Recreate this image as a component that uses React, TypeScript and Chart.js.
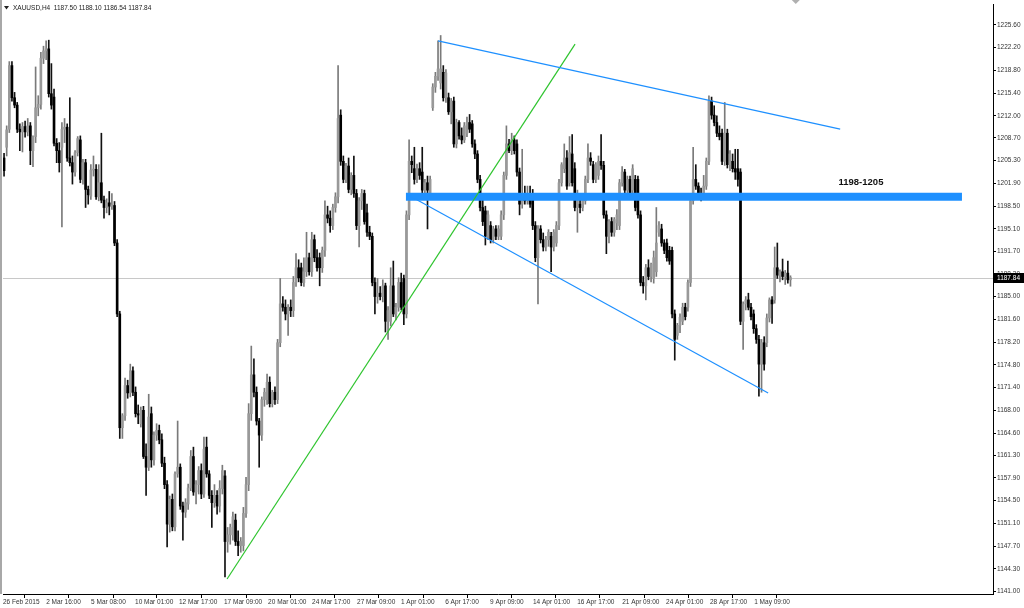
import React, { useEffect, useRef } from "react";
import { Chart, registerables } from "chart.js";

Chart.register(...registerables);

const headerText = "XAUUSD,H4  1187.50 1188.10 1186.54 1187.84";

const opens = [
  1205.7,1207.3,1210.0,1219.5,1214.7,1213.6,1210.0,1209.6,1210.4,1209.6,
  1210.5,1206.8,1208.9,1213.2,1213.7,1220.6,1221.7,1222.0,1215.3,1214.8,
  1207.9,1206.8,1207.3,1210.0,1210.3,1205.7,1205.0,1203.6,1206.5,1208.4,
  1202.5,1205.0,1201.0,1200.0,1203.9,1204.0,1199.9,1202.0,1199.4,1198.3,
  1199.0,1198.5,1198.6,1193.0,1182.4,1165.4,1167.2,1171.7,1170.6,1173.9,
  1170.7,1167.5,1166.0,1168.0,1161.1,1159.5,1167.5,1160.6,1164.3,1165.0,
  1163.6,1160.1,1156.9,1151.0,1154.7,1150.6,1158.5,1159.5,1153.7,1152.8,
  1154.0,1156.4,1161.1,1155.8,1156.9,1159.0,1155.5,1162.5,1158.5,1155.3,
  1154.2,1155.3,1153.7,1156.3,1158.2,1148.4,1149.4,1149.4,1151.6,1148.4,
  1147.8,1147.8,1152.6,1156.9,1167.5,1173.3,1170.7,1166.4,1164.3,1169.6,
  1169.6,1172.2,1169.0,1170.7,1169.6,1178.1,1183.9,1183.4,1182.4,1183.4,
  1182.9,1187.1,1189.3,1189.3,1187.1,1188.7,1190.8,1188.7,1193.5,1190.8,
  1190.8,1189.3,1191.9,1197.2,1196.7,1195.6,1198.3,1199.9,1212.1,1205.2,
  1202.5,1204.5,1201.0,1203.1,1200.4,1195.6,1199.3,1200.4,1197.5,1194.6,
  1194.0,1187.1,1185.0,1185.5,1185.0,1186.6,1181.3,1181.3,1186.6,1182.4,
  1183.4,1187.1,1187.7,1182.4,1197.2,1205.2,1204.1,1202.5,1204.1,1203.6,
  1200.9,1202.0,1200.4,1213.2,1216.3,1217.9,1216.9,1218.5,1214.7,1214.7,
  1212.6,1214.2,1207.8,1211.0,1209.0,1208.4,1209.4,1211.0,1210.8,1207.8,
  1206.3,1202.5,1198.3,1197.8,1194.0,1195.6,1193.5,1195.1,1194.0,1194.0,
  1197.2,1203.1,1207.8,1206.8,1208.4,1207.8,1203.6,1198.8,1200.4,1199.3,
  1200.4,1200.4,1195.6,1190.8,1195.1,1193.5,1192.4,1193.5,1194.0,1192.4,
  1193.0,1195.6,1202.0,1204.1,1205.7,1202.0,1206.3,1204.1,1198.3,1198.8,
  1198.3,1199.3,1202.5,1205.7,1204.7,1202.5,1203.1,1205.2,1204.6,1197.2,
  1194.0,1196.2,1194.6,1196.0,1195.6,1202.0,1203.6,1200.9,1202.5,1200.9,
  1202.5,1202.5,1197.2,1187.1,1186.6,1189.3,1188.0,1187.7,1188.7,1194.6,
  1195.1,1193.0,1193.0,1191.9,1191.9,1182.4,1179.2,1180.7,1181.3,1183.4,
  1183.4,1187.1,1199.3,1202.5,1201.5,1200.4,1200.0,1201.5,1205.2,1214.2,
  1212.1,1211.0,1209.4,1209.4,1205.2,1209.4,1204.7,1205.2,1204.1,1204.1,
  1203.6,1181.3,1183.9,1184.5,1183.4,1182.4,1180.2,1178.6,1174.9,1178.1,
  1178.1,1181.8,1184.5,1184.5,1189.3,1188.2,1188.7,1188.0,1188.5,1187.50,
];

const highs = [
  1206.4,1210.5,1220.1,1220.1,1215.5,1214.0,1210.8,1211.0,1211.2,1211.6,
  1211.0,1209.0,1219.3,1215.0,1221.5,1222.4,1223.2,1223.3,1219.8,1216.0,
  1208.6,1208.0,1211.0,1211.6,1210.8,1214.7,1206.0,1206.8,1208.9,1209.0,
  1205.5,1205.5,1201.5,1204.7,1206.0,1204.7,1204.7,1209.4,1200.0,1199.6,
  1200.7,1200.4,1199.2,1193.5,1182.8,1167.5,1172.8,1172.5,1174.9,1174.5,
  1171.5,1168.8,1168.5,1168.6,1163.0,1170.4,1168.5,1164.8,1166.0,1165.8,
  1164.5,1161.0,1157.5,1155.2,1155.5,1158.8,1166.4,1160.0,1154.3,1154.8,
  1157.0,1162.0,1162.5,1157.5,1159.6,1160.0,1164.0,1164.0,1159.0,1156.0,
  1156.9,1156.0,1157.5,1159.8,1159.0,1150.5,1151.0,1152.8,1152.5,1150.0,
  1149.0,1153.5,1158.0,1169.0,1177.6,1175.7,1171.5,1166.8,1170.0,1171.3,
  1173.4,1173.0,1171.0,1171.5,1178.6,1187.7,1185.0,1184.5,1183.8,1184.5,
  1188.0,1191.4,1190.5,1190.0,1190.8,1194.6,1191.5,1194.6,1194.2,1192.0,
  1191.5,1192.4,1199.3,1198.5,1197.8,1198.8,1200.5,1219.5,1212.9,1206.0,
  1204.9,1205.7,1203.5,1206.0,1201.0,1199.8,1201.0,1200.9,1198.8,1195.5,
  1194.5,1187.8,1187.7,1186.5,1187.5,1187.0,1183.5,1189.3,1190.3,1184.0,
  1187.8,1188.5,1188.2,1197.8,1208.4,1206.0,1207.3,1204.8,1205.0,1207.3,
  1202.5,1203.0,1203.0,1216.8,1218.5,1223.2,1224.0,1219.5,1218.9,1215.4,
  1214.6,1214.8,1211.5,1211.3,1210.2,1211.0,1211.8,1212.2,1211.3,1208.4,
  1206.8,1203.1,1200.0,1198.5,1197.8,1196.2,1195.5,1195.6,1195.6,1197.8,
  1203.6,1210.5,1208.5,1209.4,1209.0,1208.4,1204.2,1207.0,1201.5,1201.5,
  1201.5,1201.0,1196.2,1195.6,1195.6,1194.5,1194.0,1195.0,1194.6,1195.0,
  1196.2,1202.5,1205.0,1207.8,1206.8,1208.9,1209.2,1205.0,1200.9,1199.5,
  1200.4,1203.0,1207.8,1206.5,1205.2,1205.0,1206.0,1209.2,1205.2,1197.8,
  1196.5,1196.8,1196.8,1198.0,1202.5,1204.4,1204.0,1203.0,1203.0,1204.7,
  1203.1,1203.0,1197.8,1188.0,1189.8,1190.5,1190.0,1191.8,1198.3,1196.2,
  1195.8,1193.5,1193.6,1192.5,1192.4,1183.0,1181.0,1182.4,1184.0,1184.0,
  1187.5,1199.9,1207.3,1204.7,1202.0,1201.2,1203.1,1205.7,1215.0,1214.8,
  1213.5,1212.0,1210.5,1210.0,1214.0,1210.0,1206.8,1206.3,1207.0,1207.0,
  1204.1,1184.2,1185.0,1185.5,1184.0,1183.0,1180.8,1179.2,1178.6,1179.0,
  1182.4,1184.8,1185.0,1192.4,1193.0,1189.0,1190.6,1188.9,1190.3,1188.10,
];

const lows = [
  1203.0,1206.0,1209.5,1214.2,1213.2,1209.5,1206.8,1206.6,1208.8,1209.0,
  1204.7,1204.4,1208.0,1212.0,1213.0,1219.8,1220.4,1214.8,1213.0,1207.5,
  1205.0,1203.6,1195.4,1208.0,1205.2,1204.5,1201.8,1203.0,1206.0,1202.0,
  1201.8,1198.3,1198.8,1199.5,1203.0,1199.5,1199.3,1199.0,1196.7,1197.5,
  1197.2,1198.0,1192.6,1182.0,1163.8,1163.8,1166.5,1169.8,1170.0,1170.2,
  1167.0,1166.0,1165.5,1160.8,1155.3,1159.0,1159.5,1159.8,1163.5,1163.0,
  1159.6,1156.3,1147.6,1149.8,1150.0,1150.0,1158.0,1153.2,1148.6,1152.0,
  1153.2,1156.0,1155.3,1154.0,1155.5,1154.8,1155.0,1158.0,1154.8,1150.5,
  1153.5,1152.5,1152.8,1155.5,1143.1,1146.8,1148.0,1148.6,1147.8,1146.3,
  1146.8,1147.0,1152.0,1156.0,1166.5,1170.0,1165.8,1159.5,1163.5,1168.6,
  1168.9,1168.5,1168.5,1168.9,1169.0,1177.5,1182.8,1181.5,1179.2,1182.0,
  1182.0,1186.5,1187.2,1186.6,1186.5,1188.0,1188.2,1188.0,1190.2,1188.8,
  1186.6,1188.6,1191.0,1196.0,1194.6,1195.0,1197.6,1199.0,1204.6,1202.0,
  1202.0,1200.5,1200.2,1199.8,1195.0,1192.4,1198.0,1195.8,1194.0,1193.5,
  1186.6,1182.4,1184.0,1184.5,1184.2,1179.7,1178.6,1180.6,1182.0,1181.5,
  1182.8,1183.0,1180.8,1181.8,1196.5,1203.5,1201.8,1202.0,1202.5,1200.5,
  1200.2,1195.1,1199.8,1212.8,1215.5,1217.3,1216.0,1214.2,1214.0,1212.2,
  1210.8,1207.3,1207.2,1208.5,1207.8,1208.0,1208.9,1209.5,1207.3,1205.6,
  1202.0,1197.8,1195.6,1192.7,1193.5,1193.0,1193.0,1193.5,1193.5,1193.5,
  1196.5,1202.5,1206.5,1206.2,1206.3,1203.0,1197.2,1198.2,1198.8,1198.8,
  1198.3,1195.0,1190.2,1183.9,1193.0,1191.8,1191.8,1192.5,1188.7,1191.8,
  1192.5,1195.0,1201.5,1203.5,1201.0,1201.5,1201.5,1197.8,1194.6,1197.5,
  1197.8,1198.8,1202.0,1204.6,1202.0,1202.0,1202.5,1204.0,1196.7,1191.4,
  1193.0,1194.0,1194.0,1195.0,1195.0,1201.5,1200.5,1200.5,1199.9,1200.4,
  1197.8,1196.7,1186.6,1185.5,1184.5,1187.5,1187.2,1187.0,1188.0,1194.0,
  1192.5,1191.4,1190.3,1189.8,1181.8,1175.5,1178.6,1179.6,1180.8,1181.5,
  1182.8,1186.5,1198.8,1201.0,1199.8,1199.3,1199.5,1201.0,1204.7,1211.5,
  1210.5,1208.9,1208.4,1204.7,1204.6,1204.2,1203.8,1203.6,1202.5,1201.5,
  1180.8,1177.1,1183.0,1183.0,1181.5,1179.5,1178.0,1170.1,1170.7,1174.0,
  1177.5,1181.2,1181.0,1184.0,1187.7,1187.2,1187.5,1186.8,1187.0,1186.54,
];

const closes = [
  1203.8,1209.9,1219.5,1214.7,1213.6,1210.0,1209.6,1210.4,1209.6,1210.5,
  1206.8,1208.9,1213.2,1213.7,1220.6,1221.7,1222.0,1215.3,1213.6,1207.9,
  1206.8,1205.0,1210.0,1210.3,1205.7,1205.0,1203.6,1206.5,1208.6,1202.5,
  1205.0,1201.0,1200.2,1203.9,1204.0,1199.9,1202.0,1199.4,1198.3,1199.0,
  1198.5,1198.7,1193.0,1182.4,1165.4,1167.2,1171.7,1170.6,1173.9,1170.7,
  1167.5,1167.3,1168.0,1161.1,1159.5,1167.0,1160.6,1164.3,1165.0,1163.6,
  1160.1,1156.9,1151.0,1154.7,1150.6,1158.5,1159.5,1153.7,1152.8,1154.2,
  1156.4,1161.1,1155.8,1156.9,1159.0,1155.5,1162.2,1158.5,1155.3,1154.2,
  1155.3,1153.7,1156.3,1159.0,1148.4,1149.4,1150.5,1152.1,1148.4,1147.8,
  1148.4,1152.6,1156.9,1167.5,1173.3,1170.7,1166.4,1164.3,1169.6,1170.7,
  1172.2,1169.0,1170.7,1169.6,1178.1,1183.9,1183.4,1182.4,1183.4,1182.9,
  1187.1,1189.3,1187.8,1187.1,1188.7,1190.8,1188.7,1193.5,1190.8,1189.3,
  1189.3,1191.9,1197.2,1196.7,1195.6,1198.3,1199.9,1211.6,1205.2,1202.5,
  1204.5,1201.0,1203.1,1200.4,1195.6,1199.3,1200.4,1196.2,1194.6,1194.0,
  1187.1,1185.0,1185.5,1185.0,1186.6,1181.3,1182.9,1186.6,1182.4,1183.4,
  1187.1,1183.4,1182.4,1197.2,1205.2,1204.7,1202.5,1204.1,1203.1,1200.9,
  1202.0,1200.9,1202.5,1216.3,1217.9,1219.0,1219.0,1214.7,1218.4,1212.6,
  1214.2,1207.8,1211.0,1209.0,1208.4,1210.5,1211.0,1210.0,1207.8,1206.3,
  1202.5,1198.3,1196.2,1194.0,1197.2,1193.5,1195.1,1194.0,1195.1,1197.2,
  1203.1,1207.8,1206.8,1208.4,1206.8,1203.6,1198.8,1200.4,1199.3,1200.4,
  1198.8,1195.6,1190.8,1195.1,1193.5,1192.4,1193.5,1194.6,1192.4,1194.6,
  1195.6,1202.0,1204.7,1205.7,1201.5,1206.5,1202.0,1198.3,1200.4,1198.3,
  1199.9,1202.5,1205.7,1205.2,1202.5,1204.7,1205.2,1204.6,1197.2,1194.0,
  1196.2,1194.6,1196.5,1197.2,1202.0,1203.6,1200.9,1202.5,1200.4,1204.1,
  1198.3,1197.2,1187.1,1186.6,1189.3,1188.0,1189.8,1190.8,1193.0,1195.6,
  1193.0,1191.9,1190.8,1190.3,1182.4,1178.6,1180.7,1181.9,1183.4,1182.0,
  1187.1,1199.3,1202.5,1201.5,1200.4,1200.0,1201.5,1205.2,1214.2,1212.1,
  1211.0,1209.4,1208.9,1205.2,1209.4,1204.7,1206.3,1204.1,1203.6,1202.5,
  1181.3,1183.9,1184.5,1183.4,1182.0,1180.2,1178.6,1174.9,1178.1,1174.9,
  1181.8,1184.5,1183.9,1189.3,1188.2,1188.7,1188.0,1188.5,1187.5,1187.84,
];

const dateLabels = [
  "26 Feb 2015", "2 Mar 16:00", "5 Mar 08:00", "10 Mar 01:00", "12 Mar 17:00",
  "17 Mar 09:00", "20 Mar 01:00", "24 Mar 17:00", "27 Mar 09:00", "1 Apr 01:00",
  "6 Apr 17:00", "9 Apr 09:00", "14 Apr 01:00", "16 Apr 17:00", "21 Apr 09:00",
  "24 Apr 01:00", "28 Apr 17:00", "1 May 09:00",
];
const dateTickBars = [
  -0.4, 16.0, 33.1, 49.8, 66.5, 83.6, 100.4, 117.1, 134.2, 150.9,
  167.7, 184.8, 201.1, 217.9, 235.0, 251.7, 268.4, 285.2,
];
const priceTicks = [
  1225.6, 1222.2, 1218.8, 1215.4, 1212.0, 1208.7, 1205.3, 1201.9, 1198.5,
  1195.1, 1191.7, 1188.3, 1185.0, 1181.6, 1178.2, 1174.8, 1171.4, 1168.0,
  1164.6, 1161.3, 1157.9, 1154.5, 1151.1, 1147.7, 1144.3, 1141.0,
];
const lastPrice = 1187.84;

const zoneLabel = "1198-1205";
const zoneLabelAt = { x: 325.8, y: 1202.0 };
const zoneBand = [{ x: 152.8, y: 1199.9 }, { x: 364.2, y: 1199.9 }];
const upperTrend = [{ x: 165.0, y: 1223.2 }, { x: 317.9, y: 1210.0 }];
const lowerTrend = [{ x: 154.0, y: 1200.1 }, { x: 290.5, y: 1170.6 }];
const greenTrend = [{ x: 84.8, y: 1142.8 }, { x: 217.1, y: 1222.7 }];

const FONT = "'Liberation Sans', Arial, sans-serif";

const isBull = (i: number) => closes[i] >= opens[i];

export default function App() {
  const ref = useRef<HTMLCanvasElement | null>(null);

  useEffect(() => {
    const canvas = ref.current;
    if (!canvas) return;

    const wickData = lows.map((l, i) => ({ x: i, y: [l, highs[i]] }));
    const bodyData = opens.map((o, i) => ({ x: i, y: [o, closes[i]] }));

    const overlay = {
      id: "overlay",
      beforeDraw(chart: any) {
        const { ctx } = chart;
        ctx.save();
        ctx.fillStyle = "#ffffff";
        ctx.fillRect(0, 0, chart.width, chart.height);
        ctx.restore();
      },
      beforeDatasetsDraw(chart: any) {
        const { ctx, chartArea, scales } = chart;
        const y = Math.round(scales.y.getPixelForValue(lastPrice)) + 0.5;
        ctx.save();
        ctx.strokeStyle = "#c8c8c8";
        ctx.lineWidth = 1;
        ctx.beginPath();
        ctx.moveTo(chartArea.left, y);
        ctx.lineTo(chartArea.right, y);
        ctx.stroke();
        ctx.restore();
      },
      afterDraw(chart: any) {
        const { ctx, chartArea, scales } = chart;
        ctx.save();
        // left window border
        ctx.fillStyle = "#a8a8a8";
        ctx.fillRect(0, 0, 2, chartArea.bottom);
        // header
        ctx.fillStyle = "#222";
        ctx.beginPath();
        ctx.moveTo(4, 6);
        ctx.lineTo(9, 6);
        ctx.lineTo(6.5, 9.5);
        ctx.closePath();
        ctx.fill();
        ctx.font = `6.5px ${FONT}`;
        ctx.textBaseline = "middle";
        ctx.textAlign = "left";
        ctx.fillText(headerText, 13, 8);
        // zone label
        ctx.font = `bold 9.5px ${FONT}`;
        ctx.textAlign = "center";
        ctx.fillStyle = "#111";
        ctx.fillText(
          zoneLabel,
          scales.x.getPixelForValue(zoneLabelAt.x),
          scales.y.getPixelForValue(zoneLabelAt.y)
        );
        // chart shift marker
        const sx = scales.x.getPixelForValue(opens.length + 1);
        ctx.fillStyle = "#b0b0b0";
        ctx.beginPath();
        ctx.moveTo(sx - 4, 0);
        ctx.lineTo(sx + 4, 0);
        ctx.lineTo(sx, 4);
        ctx.closePath();
        ctx.fill();
        // last price box
        const py = Math.round(scales.y.getPixelForValue(lastPrice));
        ctx.fillStyle = "#000";
        ctx.fillRect(chartArea.right + 1, py - 5, 30, 10);
        ctx.fillStyle = "#fff";
        ctx.font = `6.5px ${FONT}`;
        ctx.textAlign = "left";
        ctx.fillText(lastPrice.toFixed(2), chartArea.right + 4, py);
        ctx.restore();
      },
    };

    const chart = new Chart(canvas, {
      type: "bar",
      data: {
        datasets: [
          {
            type: "line",
            data: zoneBand,
            borderColor: "#1e90ff",
            borderWidth: 8,
            borderCapStyle: "butt",
            pointRadius: 0,
            order: 1,
          } as any,
          {
            type: "line",
            data: upperTrend,
            borderColor: "#1e90ff",
            borderWidth: 1.2,
            pointRadius: 0,
            order: 0,
          } as any,
          {
            type: "line",
            data: lowerTrend,
            borderColor: "#1e90ff",
            borderWidth: 1.2,
            pointRadius: 0,
            order: 0,
          } as any,
          {
            type: "line",
            data: greenTrend,
            borderColor: "#2ec42e",
            borderWidth: 1.2,
            pointRadius: 0,
            order: 0,
          } as any,
          {
            type: "bar",
            data: wickData,
            barThickness: 1,
            grouped: false,
            backgroundColor: (c: any) => (isBull(c.dataIndex) ? "#7a7a7a" : "#111111"),
            borderWidth: 0,
            order: 3,
          } as any,
          {
            type: "bar",
            data: bodyData,
            barThickness: 2,
            grouped: false,
            minBarLength: 1,
            backgroundColor: (c: any) => (isBull(c.dataIndex) ? "#999999" : "#000000"),
            borderWidth: 0,
            order: 2,
          } as any,
        ],
      },
      options: {
        responsive: false,
        animation: false,
        devicePixelRatio: 1,
        layout: { padding: { left: 3, top: 2, right: 0, bottom: 0 } },
        plugins: {
          legend: { display: false },
          tooltip: { enabled: false },
        },
        scales: {
          x: {
            type: "linear",
            min: -0.4,
            max: 376,
            offset: false,
            afterBuildTicks: (axis: any) => {
              axis.ticks = dateTickBars.map((v) => ({ value: v }));
            },
            afterFit: (s: any) => {
              s.height = 14;
            },
            ticks: {
              autoSkip: false,
              maxRotation: 0,
              minRotation: 0,
              align: "start",
              padding: 0,
              color: "#333",
              font: { family: FONT, size: 6.5 },
              callback: (_v: any, i: number) => dateLabels[i],
            },
            grid: {
              drawOnChartArea: false,
              drawTicks: true,
              tickLength: 4,
              color: "#000",
            },
            border: { display: true, color: "#000", width: 1 },
          },
          y: {
            type: "linear",
            position: "right",
            min: 1140.56,
            max: 1228.57,
            afterBuildTicks: (axis: any) => {
              axis.ticks = priceTicks.map((v) => ({ value: v }));
            },
            afterFit: (s: any) => {
              s.width = 31;
            },
            ticks: {
              autoSkip: false,
              padding: 1,
              color: "#333",
              font: { family: FONT, size: 6.5 },
              callback: (v: any) => Number(v).toFixed(2),
            },
            grid: {
              drawOnChartArea: false,
              drawTicks: true,
              tickLength: 3,
              color: "#000",
            },
            border: { display: true, color: "#000", width: 1 },
          },
        },
      } as any,
      plugins: [overlay],
    });

    return () => chart.destroy();
  }, []);

  return (
    <div style={{ position: "absolute", left: 0, top: 0, width: 1024, height: 608, background: "#fff" }}>
      <canvas ref={ref} width={1024} height={608} style={{ display: "block" }} />
    </div>
  );
}
